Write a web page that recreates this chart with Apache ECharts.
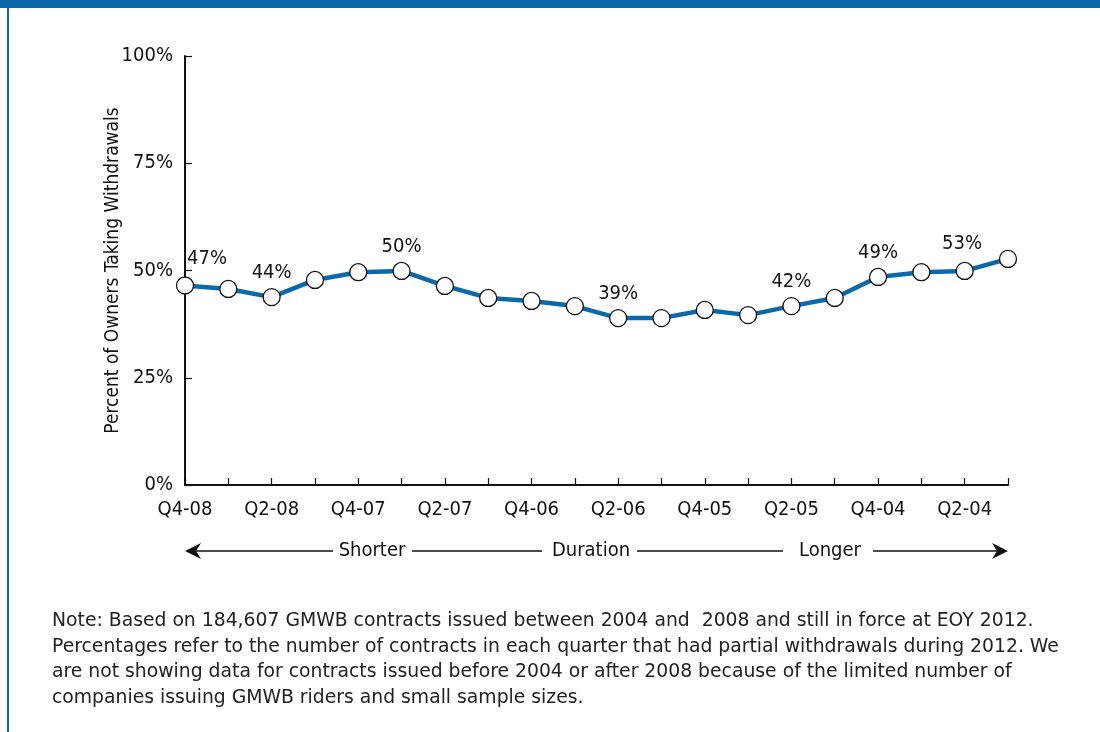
<!DOCTYPE html>
<html><head><meta charset="utf-8">
<script src="https://cdn.jsdelivr.net/npm/echarts@6/dist/echarts.min.js"></script>
<style>
html,body{margin:0;padding:0;background:#fff;}
#wrap{position:relative;width:1100px;height:732px;overflow:hidden;}
#topbar{position:absolute;left:0;top:0;width:1100px;height:8px;background:#0a68ab;}
#leftline{position:absolute;left:7px;top:8px;width:2px;height:724px;background:#0a68ab;}
#chart{position:absolute;left:0;top:0;width:1100px;height:732px;}
#note{position:absolute;left:52px;top:607px;width:1048px;font-family:"DejaVu Sans",sans-serif;font-size:18.8px;line-height:25.7px;color:#222;white-space:nowrap;}
</style></head>
<body><div id="wrap"><div id="chart"></div><div id="topbar"></div><div id="leftline"></div>
<div id="note">Note: Based on 184,607 GMWB contracts issued between 2004 and&nbsp; 2008 and still in force at EOY 2012.<br>Percentages refer to the number of contracts in each quarter that had partial withdrawals during 2012. We<br>are not showing data for contracts issued before 2004 or after 2008 because of the limited number of<br>companies issuing GMWB riders and small sample sizes.</div></div>
<script>
const categories = ["Q4-08","Q3-08","Q2-08","Q1-08","Q4-07","Q3-07","Q2-07","Q1-07","Q4-06","Q3-06","Q2-06","Q1-06","Q4-05","Q3-05","Q2-05","Q1-05","Q4-04","Q3-04","Q2-04","Q1-04"];
const values = [46.5,45.7,43.8,47.8,49.6,49.9,46.4,43.6,42.9,41.7,38.9,38.9,40.8,39.6,41.7,43.6,48.5,49.6,49.9,52.7];
const labelTexts = ["47%",null,"44%",null,null,"50%",null,null,null,null,"39%",null,null,null,"42%",null,"49%",null,null,"53%"];
const yTicks = [0,25,50,75,100];
const durationWords = ["Shorter","Duration","Longer"];

const FONT = '"DejaVu Sans Condensed","Liberation Sans Narrow",sans-serif';
const chart = echarts.init(document.getElementById('chart'));
const data = values.map((v,i)=>{
  const o = {value:v};
  if(labelTexts[i]){
    let off=[0,3];
    if(i===0) off=[22,0];
    if(i===values.length-1) off=[-46,12];
    o.label={show:true,formatter:labelTexts[i],position:'top',offset:off,distance:8};
  }
  return o;
});
chart.setOption({
  animation:false,
  grid:{left:185,right:92,top:56,bottom:247},
  xAxis:{type:'category',data:categories,boundaryGap:false,
    axisLine:{lineStyle:{color:'#111',width:2}},
    axisTick:{inside:true,length:7,lineStyle:{color:'#111',width:1.2},interval:0,alignWithLabel:true},
    axisLabel:{interval:1,color:'#111',fontFamily:FONT,fontSize:20,margin:15},
    splitLine:{show:false}},
  yAxis:{type:'value',min:0,max:100,interval:25,
    name:'Percent of Owners Taking Withdrawals',nameLocation:'middle',nameGap:62,nameMoveOverlap:false,
    nameTextStyle:{color:'#111',fontFamily:FONT,fontSize:19},
    axisLine:{show:true,lineStyle:{color:'#111',width:2}},
    axisTick:{show:true,inside:true,length:7,lineStyle:{color:'#111',width:1.2}},
    axisLabel:{color:'#111',fontFamily:FONT,fontSize:20,margin:12,formatter:v=>yTicks.includes(v)?v+'%':''},
    splitLine:{show:false}},
  series:[{type:'line',data:data,symbol:'circle',symbolSize:17,
    lineStyle:{color:'#0a68ab',width:4.5},
    itemStyle:{color:'#fff',borderColor:'#111',borderWidth:1.3},
    label:{show:false,color:'#111',fontFamily:FONT,fontSize:20},
    z:3}]
});

// Duration arrow under the axis, ends taken from the axis scale
const p0 = chart.convertToPixel({xAxisIndex:0},categories[0]);
const p1 = chart.convertToPixel({xAxisIndex:0},categories[categories.length-1]);
const ay = 551;
const textPos = [372,591,830];
const gaps = [[333,412],[542,637],[783,873]];
const els = [];
let segs = [[p0+10,gaps[0][0]],[gaps[0][1],gaps[1][0]],[gaps[1][1],gaps[2][0]],[gaps[2][1],p1-10]];
segs.forEach(s=>els.push({type:'line',shape:{x1:s[0],y1:ay,x2:s[1],y2:ay},style:{stroke:'#111',lineWidth:1.3}}));
els.push({type:'polygon',shape:{points:[[p0,ay],[p0+16,ay-8],[p0+11,ay],[p0+16,ay+8]]},style:{fill:'#111'}});
els.push({type:'polygon',shape:{points:[[p1,ay],[p1-16,ay-8],[p1-11,ay],[p1-16,ay+8]]},style:{fill:'#111'}});
durationWords.forEach((w,i)=>els.push({type:'text',x:textPos[i],y:ay,style:{text:w,fill:'#111',font:'20px '+FONT,textAlign:'center',textVerticalAlign:'middle'}}));
chart.setOption({graphic:{elements:els}});
</script></body></html>
